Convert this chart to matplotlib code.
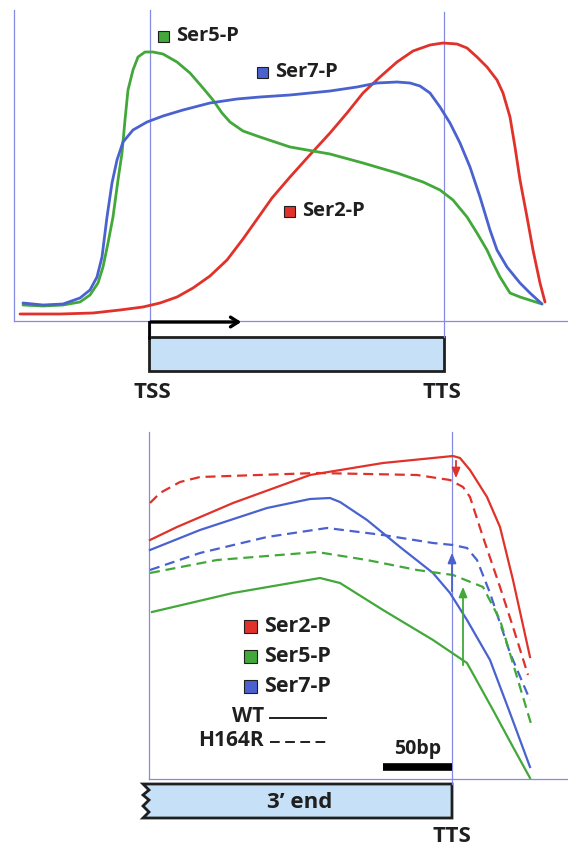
import matplotlib
matplotlib.use("Agg")
import matplotlib.pyplot as plt
from matplotlib.patches import Polygon, Rectangle

# ---------------------------------------------------------------------------
# Data (positions along the gene, signal heights; image-space units)
# ---------------------------------------------------------------------------

# top panel: full gene profile
ser5_x = [23, 43, 63, 80, 90, 98, 103, 108, 113, 118, 122, 125, 128, 133, 138,
          145, 153, 163, 177, 190, 203, 213, 222, 230, 243, 260, 290, 330, 363,
          397, 423, 440, 453, 467, 477, 487, 493, 500, 510, 520, 542]
ser5_y = [305, 306, 305, 302, 295, 283, 267, 243, 217, 180, 153, 120, 90, 70,
          57, 52, 52, 54, 62, 73, 88, 100, 113, 122, 131, 137, 147, 154, 163,
          173, 182, 190, 200, 217, 233, 250, 263, 277, 293, 297, 304]

ser7_x = [23, 43, 63, 80, 90, 97, 102, 107, 112, 117, 123, 133, 147, 163, 183,
          210, 237, 260, 290, 330, 357, 377, 397, 410, 420, 430, 440, 450, 460,
          470, 480, 490, 497, 507, 520, 530, 542]
ser7_y = [303, 305, 304, 298, 290, 277, 257, 217, 183, 160, 142, 130, 122, 116,
          110, 103, 99, 97, 95, 91, 87, 83, 82, 83, 86, 93, 107, 123, 143, 167,
          197, 230, 250, 267, 283, 293, 304]

ser2_x = [20, 60, 93, 120, 143, 160, 177, 193, 210, 227, 243, 260, 272, 290,
          308, 330, 347, 363, 380, 397, 413, 430, 443, 457, 467, 477, 487, 497,
          503, 510, 515, 520, 527, 533, 540, 545]
ser2_y = [314, 314, 313, 310, 307, 303, 297, 288, 276, 260, 239, 215, 198, 177,
          157, 133, 113, 93, 77, 62, 51, 45, 43, 44, 48, 57, 67, 80, 93, 117,
          147, 180, 217, 250, 283, 302]

# bottom panel: 3' end, WT (solid) vs H164R (dashed)
wt_ser2_x = [150, 177, 233, 310, 383, 453, 460, 470, 487, 500, 513, 530]
wt_ser2_y = [540, 527, 503, 475, 463, 456, 458, 470, 497, 527, 580, 657]
mut_ser2_x = [150, 160, 180, 200, 317, 417, 450, 463, 470, 483, 500, 513, 528]
mut_ser2_y = [503, 493, 482, 477, 473, 475, 480, 487, 497, 537, 587, 627, 675]

wt_ser7_x = [150, 200, 267, 310, 330, 340, 367, 400, 433, 450, 467, 490, 510, 530]
wt_ser7_y = [550, 530, 508, 499, 498, 502, 520, 547, 573, 593, 620, 660, 713, 767]
mut_ser7_x = [150, 200, 267, 327, 383, 433, 453, 467, 477, 490, 510, 530]
mut_ser7_y = [570, 553, 537, 528, 535, 543, 545, 548, 560, 593, 653, 700]

wt_ser5_x = [152, 233, 320, 340, 383, 433, 467, 493, 513, 530]
wt_ser5_y = [612, 593, 578, 583, 610, 640, 663, 710, 747, 778]
mut_ser5_x = [150, 217, 317, 367, 417, 453, 483, 500, 517, 532]
mut_ser5_y = [573, 560, 552, 560, 570, 575, 587, 620, 677, 727]

labels = ["Ser2-P", "Ser5-P", "Ser7-P"]

RED = "#e0322a"
GREEN = "#42a83a"
BLUE = "#4a62cf"
AXIS = "#858ae3"
BOX = "#c6e1f7"
INK = "#1f1f1f"

plt.rcParams["font.family"] = ["Open Sans", "DejaVu Sans"]

fig = plt.figure(figsize=(5.68, 8.48), dpi=100)
ax = fig.add_axes([0, 0, 1, 1])
ax.set_xlim(0, 568)
ax.set_ylim(848, 0)
ax.axis("off")

# ----------- top panel -----------
ax.plot([14, 14], [10, 321], color=AXIS, lw=0.9)
ax.plot([14, 568], [321, 321], color=AXIS, lw=0.9)
ax.plot([150, 150], [10, 337], color=AXIS, lw=0.9)
ax.plot([444, 444], [12, 337], color=AXIS, lw=0.9)

ax.plot(ser2_x, ser2_y, color=RED, lw=2.0, solid_capstyle="round",
        solid_joinstyle="round")
ax.plot(ser5_x, ser5_y, color=GREEN, lw=2.0, solid_capstyle="round",
        solid_joinstyle="round")
ax.plot(ser7_x, ser7_y, color=BLUE, lw=2.0, solid_capstyle="round",
        solid_joinstyle="round")

top_labels = [("Ser5-P", GREEN, 163.5, 36), ("Ser7-P", BLUE, 262, 72),
              ("Ser2-P", RED, 289, 211)]
for name, col, x, y in top_labels:
    ax.add_patch(Rectangle((x - 5.5, y - 5.5), 11, 11, facecolor=col,
                           edgecolor=INK, lw=0.8))
    ax.text(x + 13, y, name, fontsize=14.5, fontweight="bold", color=INK,
            va="center", ha="left")

# transcription arrow and gene box
ax.plot([149, 149], [322, 338], color="black", lw=2)
ax.annotate("", xy=(244, 322), xytext=(148, 322),
            arrowprops=dict(arrowstyle="->,head_length=0.55,head_width=0.35",
                            color="black", lw=2.4))
ax.add_patch(Rectangle((149, 337), 295, 34, facecolor=BOX, edgecolor=INK, lw=2))
ax.text(152, 392, "TSS", fontsize=16, fontweight="bold", color=INK,
        ha="center", va="center")
ax.text(442, 392, "TTS", fontsize=16, fontweight="bold", color=INK,
        ha="center", va="center")

# ----------- bottom panel -----------
ax.plot([149, 149], [432, 779], color=AXIS, lw=0.9)
ax.plot([149, 568], [779, 779], color=AXIS, lw=0.9)
ax.plot([452, 452], [432, 784], color=AXIS, lw=0.9)

dash = (0, (4.5, 2.6))
ax.plot(mut_ser2_x, mut_ser2_y, color=RED, lw=1.6, ls=dash)
ax.plot(wt_ser2_x, wt_ser2_y, color=RED, lw=1.6)
ax.plot(mut_ser7_x, mut_ser7_y, color=BLUE, lw=1.6, ls=dash)
ax.plot(wt_ser7_x, wt_ser7_y, color=BLUE, lw=1.6)
ax.plot(mut_ser5_x, mut_ser5_y, color=GREEN, lw=1.6, ls=dash)
ax.plot(wt_ser5_x, wt_ser5_y, color=GREEN, lw=1.6)

# change arrows at the TTS
arrow_kw = "-|>,head_length=0.6,head_width=0.25"
ax.annotate("", xy=(456, 481), xytext=(456, 458),
            arrowprops=dict(arrowstyle=arrow_kw, color=RED, lw=1.3))
ax.annotate("", xy=(452, 550), xytext=(452, 594),
            arrowprops=dict(arrowstyle=arrow_kw, color=BLUE, lw=1.3))
ax.annotate("", xy=(463, 584), xytext=(463, 668),
            arrowprops=dict(arrowstyle=arrow_kw, color=GREEN, lw=1.3))

# legend
for i, (name, col) in enumerate(zip(labels, [RED, GREEN, BLUE])):
    y = 626 + 30 * i
    ax.add_patch(Rectangle((244, y - 6.5), 13, 13, facecolor=col,
                           edgecolor=INK, lw=0.8))
    ax.text(264, y, name, fontsize=15.5, fontweight="bold", color=INK,
            va="center", ha="left")
ax.text(264, 717, "WT", fontsize=15, fontweight="bold", color=INK,
        ha="right", va="center")
ax.plot([270, 326], [718, 718], color=INK, lw=1.4)
ax.text(264, 741, "H164R", fontsize=15, fontweight="bold", color=INK,
        ha="right", va="center")
ax.plot([270, 326], [742, 742], color=INK, lw=1.4, ls=(0, (5, 2.8)))

# scale bar
ax.text(418, 749, "50bp", fontsize=14, fontweight="bold", color=INK,
        ha="center", va="center")
ax.plot([383, 452], [767, 767], color="black", lw=5.5, solid_capstyle="butt")

# 3' end box with broken left edge
box_pts = [(143, 784), (452, 784), (452, 818), (143, 818), (149, 812),
           (143, 806), (149, 800), (143, 795), (149, 790)]
ax.add_patch(Polygon(box_pts, closed=True, facecolor=BOX, edgecolor=INK,
                     lw=2, joinstyle="miter"))
ax.text(300, 802, "3\u2019 end", fontsize=16, fontweight="bold", color=INK,
        ha="center", va="center")
ax.text(452, 836, "TTS", fontsize=16, fontweight="bold", color=INK,
        ha="center", va="center")

fig.savefig("out.png", dpi=100)
